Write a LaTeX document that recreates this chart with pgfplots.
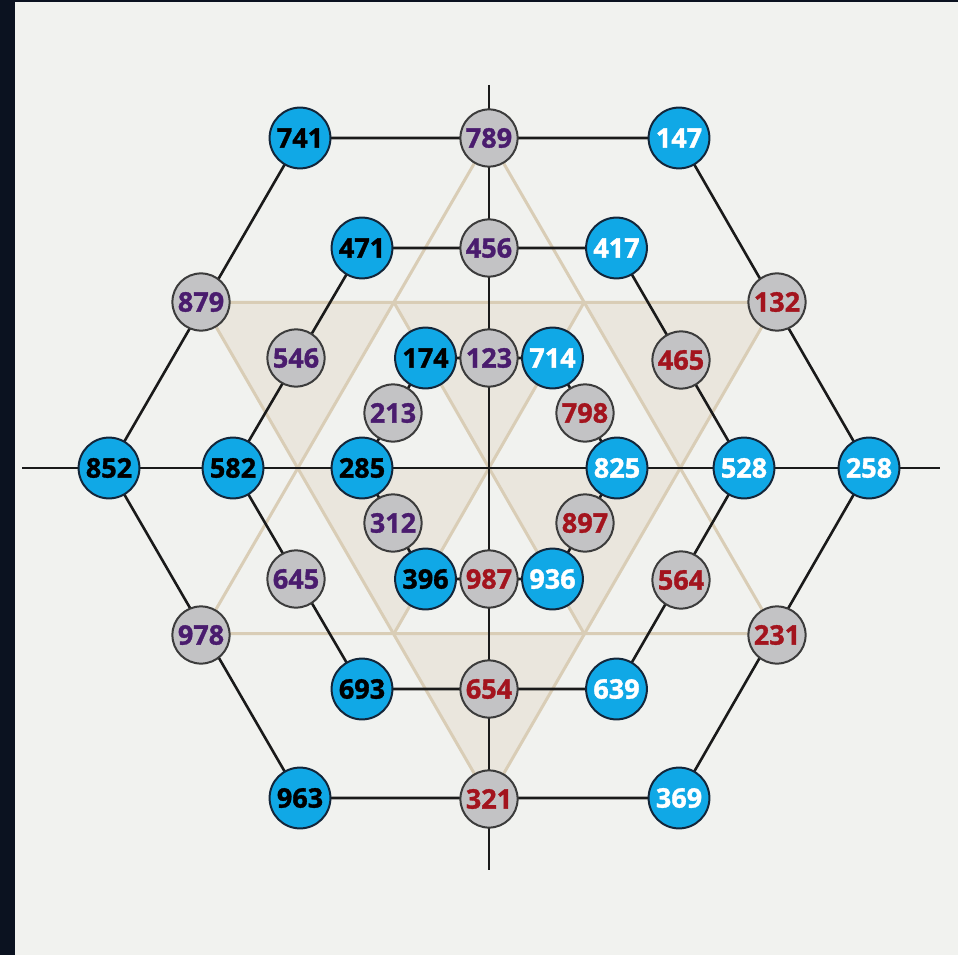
\documentclass[border=0pt]{standalone}
\usepackage{pgfplots}
\pgfplotsset{compat=1.18}
\usepackage{fontspec}
\setmainfont{Open Sans}
\newfontfamily\numfont{Open Sans}[BoldFeatures={FakeBold=1.2}]
\definecolor{bg}{HTML}{F1F2EF}
\definecolor{darkband}{HTML}{0B1220}
\definecolor{beige}{HTML}{D9CDB6}
\definecolor{shade}{HTML}{EAE6DD}
\definecolor{cyanb}{HTML}{10A8E6}
\definecolor{grayc}{HTML}{C3C3C5}
\definecolor{purp}{HTML}{4A1C6E}
\definecolor{dred}{HTML}{A3141E}
\definecolor{lineb}{HTML}{1A1A1A}
\definecolor{navyb}{HTML}{13263A}
\begin{document}
\begin{tikzpicture}
\begin{axis}[scale only axis, width=479pt, height=477.5pt,
  xmin=0, xmax=958, ymin=0, ymax=955, hide axis, clip=true]
% background
\addplot[fill=darkband, draw=none] coordinates {(0,0)(958,0)(958,955)(0,955)} -- cycle;
\addplot[fill=bg, draw=none] coordinates {(15,0)(958,0)(958,953)(15,953)} -- cycle;
% shaded down-pointing triangles
\addplot[fill=shade, draw=none] coordinates {(202,652.5)(394,652.5)(298,487)} -- cycle;
\addplot[fill=shade, draw=none] coordinates {(584,652.5)(776,652.5)(680,487)} -- cycle;
\addplot[fill=shade, draw=none] coordinates {(394,321.5)(584,321.5)(489,156)} -- cycle;
\addplot[fill=shade, draw=none] coordinates {(394,652.5)(584,652.5)(489,487)} -- cycle;
\addplot[fill=shade, draw=none] coordinates {(298,487)(489,487)(394,321.5)} -- cycle;
\addplot[fill=shade, draw=none] coordinates {(489,487)(680,487)(584,321.5)} -- cycle;
% beige hexagram lines
\addplot[beige, line width=1.5pt] coordinates {(489,817)(202,321.5)(776,321.5)} -- cycle;
\addplot[beige, line width=1.5pt] coordinates {(202,652.5)(776,652.5)(489,156)} -- cycle;
\addplot[beige, line width=1.5pt] coordinates {(394,652.5)(584,321.5)};
\addplot[beige, line width=1.5pt] coordinates {(584,652.5)(394,321.5)};
% black lines
\addplot[lineb, line width=1.3pt] coordinates {(22,487)(940,487)};
\addplot[lineb, line width=1.3pt] coordinates {(489,870)(489,85)};
\addplot[lineb, line width=1.3pt] coordinates {(300,817)(679,817)(869,487)(679,157)(300,157)(109,487)} -- cycle;
\addplot[lineb, line width=1.3pt] coordinates {(362,707)(616.5,707)(744,487)(616.5,266)(362,266)(233,487)} -- cycle;
\addplot[lineb, line width=1.3pt] coordinates {(425.5,597)(552.5,597)(617,487)(552.5,376)(425.5,376)(362,487)} -- cycle;
% blue circles, black numbers
\addplot[only marks, mark=*, mark size=15.2pt,
  mark options={fill=cyanb, draw=navyb, line width=1pt},
  point meta=explicit symbolic, nodes near coords, nodes near coords align=center,
  nodes near coords style={anchor=center, text=black, font=\numfont\bfseries\fontsize{13.5}{13.5}\selectfont}]
  coordinates {(300,817)[741] (362,707)[471] (425.5,597)[174] (109,487)[852] (233,487)[582]
  (362,487)[285] (425.5,376)[396] (362,266)[693] (300,157)[963]};
% blue circles, white numbers
\addplot[only marks, mark=*, mark size=15.2pt,
  mark options={fill=cyanb, draw=navyb, line width=1pt},
  point meta=explicit symbolic, nodes near coords, nodes near coords align=center,
  nodes near coords style={anchor=center, text=white, font=\numfont\bfseries\fontsize{13.5}{13.5}\selectfont}]
  coordinates {(679,817)[147] (616.5,707)[417] (552.5,597)[714] (617,487)[825] (744,487)[528]
  (869,487)[258] (552.5,376)[936] (616.5,266)[639] (679,157)[369]};
% gray circles, purple numbers
\addplot[only marks, mark=*, mark size=14.3pt,
  mark options={fill=grayc, draw=lineb!85, line width=1pt},
  point meta=explicit symbolic, nodes near coords, nodes near coords align=center,
  nodes near coords style={anchor=center, text=purp, font=\numfont\bfseries\fontsize{13.5}{13.5}\selectfont}]
  coordinates {(489,817)[789] (489,707)[456] (489,597)[123] (201,653)[879] (296,597)[546]
  (393,542)[213] (393,432)[312] (296,376)[645] (201,320)[978]};
% gray circles, red numbers
\addplot[only marks, mark=*, mark size=14.3pt,
  mark options={fill=grayc, draw=lineb!85, line width=1pt},
  point meta=explicit symbolic, nodes near coords, nodes near coords align=center,
  nodes near coords style={anchor=center, text=dred, font=\numfont\bfseries\fontsize{13.5}{13.5}\selectfont}]
  coordinates {(777,653)[132] (681,595)[465] (585,542)[798] (585,432)[897] (681,375)[564]
  (777,320)[231] (489,376)[987] (489,266)[654] (489,156)[321]};
\end{axis}
\end{tikzpicture}
\end{document}
